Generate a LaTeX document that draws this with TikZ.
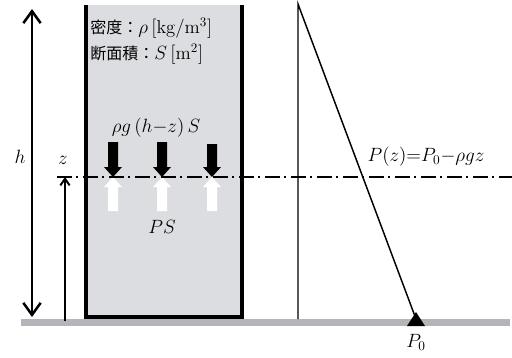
\documentclass[tikz,border=0pt]{standalone}
\usepackage{amsfonts,amssymb,amsmath}
\usepackage{xcolor}
\usepackage{fontspec}
\newfontfamily\cjk[Scale=0.86]{Noto Sans CJK JP}
\usetikzlibrary{arrows.meta}
\definecolor{liquid}{HTML}{DCDDE0}
\definecolor{floor}{HTML}{B4B5B8}

\begin{document}
\begin{tikzpicture}[x=0.75pt,y=-0.75pt,font=\fontsize{14}{16}\selectfont]
\useasboundingbox (0,0) rectangle (512,358);
% floor and vessel
\fill[floor](21,318.5) rectangle (510,326);
\fill[liquid](86,5) rectangle (242,316.5);
\draw[line width=3pt](86,5)--(86,316.5)--(242,316.5)--(242,5);
\node[anchor=west,inner sep=0](dens) at (90,28){\cjk 密度：$\rho\,[\mathrm{kg/m^3}]$};
\node[anchor=west,inner sep=0](area) at (90,54){\cjk 断面積：$S\,[\mathrm{m^2}]$};
% heights
\coordinate (htop) at (32,9);
\coordinate (hbot) at (32,317);
\draw[line width=1.9pt,{Straight Barb[length=9pt,width=13pt]}-{Straight Barb[length=9pt,width=13pt]}](htop)--(hbot);
\node(hlab) at (20,157){$h$};
\coordinate (zbot) at (65,321);
\coordinate (ztop) at (65,177);
\draw[line width=1.5pt,-{Straight Barb[length=5pt,width=7pt]}](zbot)--(ztop);
\node(zlab) at (63,160){$z$};
% forces on the slice
\fill(108,142)--++(10,0)--++(0,25)--++(4,0)--++(-9,10)--++(-9,-10)--++(4,0)--cycle;
\fill(157,142)--++(10,0)--++(0,25)--++(4,0)--++(-9,10)--++(-9,-10)--++(4,0)--cycle;
\fill(207,144)--++(10,0)--++(0,23)--++(4,0)--++(-9,10)--++(-9,-10)--++(4,0)--cycle;
\fill[white](108,211)--++(10,0)--++(0,-24)--++(4,0)--++(-9,-10)--++(-9,10)--++(4,0)--cycle;
\fill[white](157,211)--++(10,0)--++(0,-24)--++(4,0)--++(-9,-10)--++(-9,10)--++(4,0)--cycle;
\fill[white](207,211)--++(10,0)--++(0,-24)--++(4,0)--++(-9,-10)--++(-9,10)--++(4,0)--cycle;
\node(down) at (156,128){$\rho g\,(h{-}z)\,S$};
\node(up) at (162,227){$PS$};
% level z
\coordinate (lvA) at (57,177);
\coordinate (lvB) at (512,177);
\draw[line width=2.2pt,dash pattern=on 11pt off 3.5pt on 1.5pt off 3.5pt](lvA)--(lvB);
% pressure profile
\coordinate (top) at (298,4);
\coordinate (base) at (298,319);
\coordinate (p0) at (416,319);
\draw[line width=1.1pt](base)--(top)--(p0);
\fill(p0)++(0,-7)--++(9,14)--++(-18,0)--cycle;
\node(p0lab) at (416,342){$P_0$};
\node(plab) at (426,157){$P(z){=}P_0{-}\rho gz$};
\end{tikzpicture}
\end{document}
